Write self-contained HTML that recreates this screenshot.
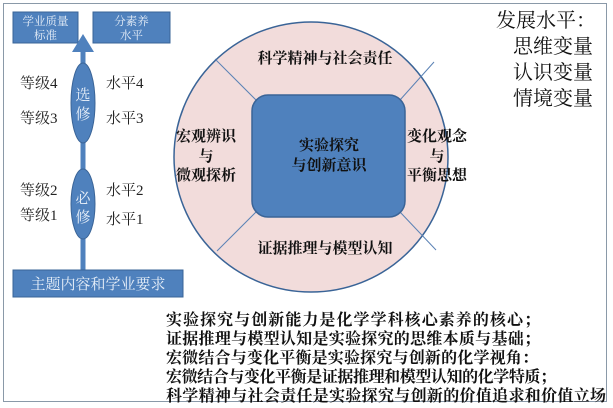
<!DOCTYPE html>
<html><head><meta charset="utf-8"><style>
html,body{margin:0;padding:0;background:#fff;}
svg{display:block;font-family:"Liberation Serif","Noto Serif CJK SC",serif;}
</style></head><body>
<svg width="613" height="408" viewBox="0 0 613 408" xmlns="http://www.w3.org/2000/svg">
<rect x="0" y="0" width="613" height="408" fill="#fff"/>
<rect x="3.5" y="3.5" width="603" height="398" fill="none" stroke="#8a99a8" stroke-width="1"/>
<!-- left -->
<rect x="13" y="12" width="65" height="31" fill="#4f81bd" stroke="#3a6497"/>
<text x="45.5" y="25" font-size="11.5" fill="#e6eef8" text-anchor="middle">学业质量</text>
<text x="45.5" y="39" font-size="11.5" fill="#e6eef8" text-anchor="middle">标准</text>
<rect x="93" y="12" width="77" height="31" fill="#4f81bd" stroke="#3a6497"/>
<text x="131.5" y="25" font-size="11.5" fill="#e6eef8" text-anchor="middle">分素养</text>
<text x="131.5" y="39" font-size="11.5" fill="#e6eef8" text-anchor="middle">水平</text>
<line x1="83" y1="272" x2="83" y2="48" stroke="#4f81bd" stroke-width="5"/>
<polygon points="72,52 83,34 94,52" fill="#4f81bd"/>
<ellipse cx="83" cy="103" rx="12" ry="40" fill="#4f81bd" stroke="#3a6497"/>
<text x="83" y="100" font-size="15" fill="#e6eef8" text-anchor="middle">选</text>
<text x="83" y="119" font-size="15" fill="#e6eef8" text-anchor="middle">修</text>
<ellipse cx="83" cy="204" rx="12" ry="35" fill="#4f81bd" stroke="#3a6497"/>
<text x="83" y="203" font-size="15" fill="#e6eef8" text-anchor="middle">必</text>
<text x="83" y="222" font-size="15" fill="#e6eef8" text-anchor="middle">修</text>
<g font-size="15" fill="#222">
<text x="20" y="88">等级4</text><text x="20" y="123">等级3</text>
<text x="20" y="195">等级2</text><text x="20" y="220">等级1</text>
<text x="106" y="88">水平4</text><text x="106" y="123">水平3</text>
<text x="106" y="195">水平2</text><text x="106" y="224">水平1</text>
</g>
<rect x="13" y="270" width="170" height="27" fill="#4f81bd" stroke="#3a6497"/>
<text x="98" y="289" font-size="15" fill="#e6eef8" text-anchor="middle">主题内容和学业要求</text>
<!-- circle -->
<ellipse cx="311" cy="157" rx="137" ry="135" fill="#f2dcdb" stroke="#3a6497" stroke-width="1.5"/>
<g stroke="#5b82b5" stroke-width="1">
<line x1="256" y1="100" x2="215" y2="59"/>
<line x1="400" y1="100" x2="434" y2="62"/>
<line x1="256" y1="212" x2="217" y2="251"/>
<line x1="400" y1="212" x2="436" y2="250"/>
</g>
<rect x="252" y="95" width="153" height="122" rx="16" fill="#4f81bd" stroke="#3a6497" stroke-width="1.5"/>
<g font-size="15" fill="#111" text-anchor="middle" font-weight="bold">
<text x="329" y="150">实验探究</text>
<text x="329" y="170">与创新意识</text>
<text x="325" y="63">科学精神与社会责任</text>
<text x="325" y="253">证据推理与模型认知</text>
<text x="206" y="141">宏观辨识</text><text x="206" y="161">与</text><text x="206" y="180">微观探析</text>
<text x="437" y="141">变化观念</text><text x="437" y="161">与</text><text x="437" y="180">平衡思想</text>
</g>
<!-- top right -->
<g font-size="20" fill="#111">
<text x="496" y="27">发展水平：</text>
<text x="513" y="53">思维变量</text>
<text x="513" y="79">认识变量</text>
<text x="513" y="105">情境变量</text>
</g>
<!-- bottom text -->
<g font-size="16" fill="#111" font-weight="bold">
<text x="166" y="325" textLength="374">实验探究与创新能力是化学学科核心素养的核心；</text>
<text x="166" y="344" textLength="374">证据推理与模型认知是实验探究的思维本质与基础；</text>
<text x="166" y="363" textLength="372">宏微结合与变化平衡是实验探究与创新的化学视角：</text>
<text x="166" y="382" textLength="390">宏微结合与变化平衡是证据推理和模型认知的化学特质；</text>
<text x="166" y="401" textLength="440">科学精神与社会责任是实验探究与创新的价值追求和价值立场</text>
</g>
</svg>
</body></html>
